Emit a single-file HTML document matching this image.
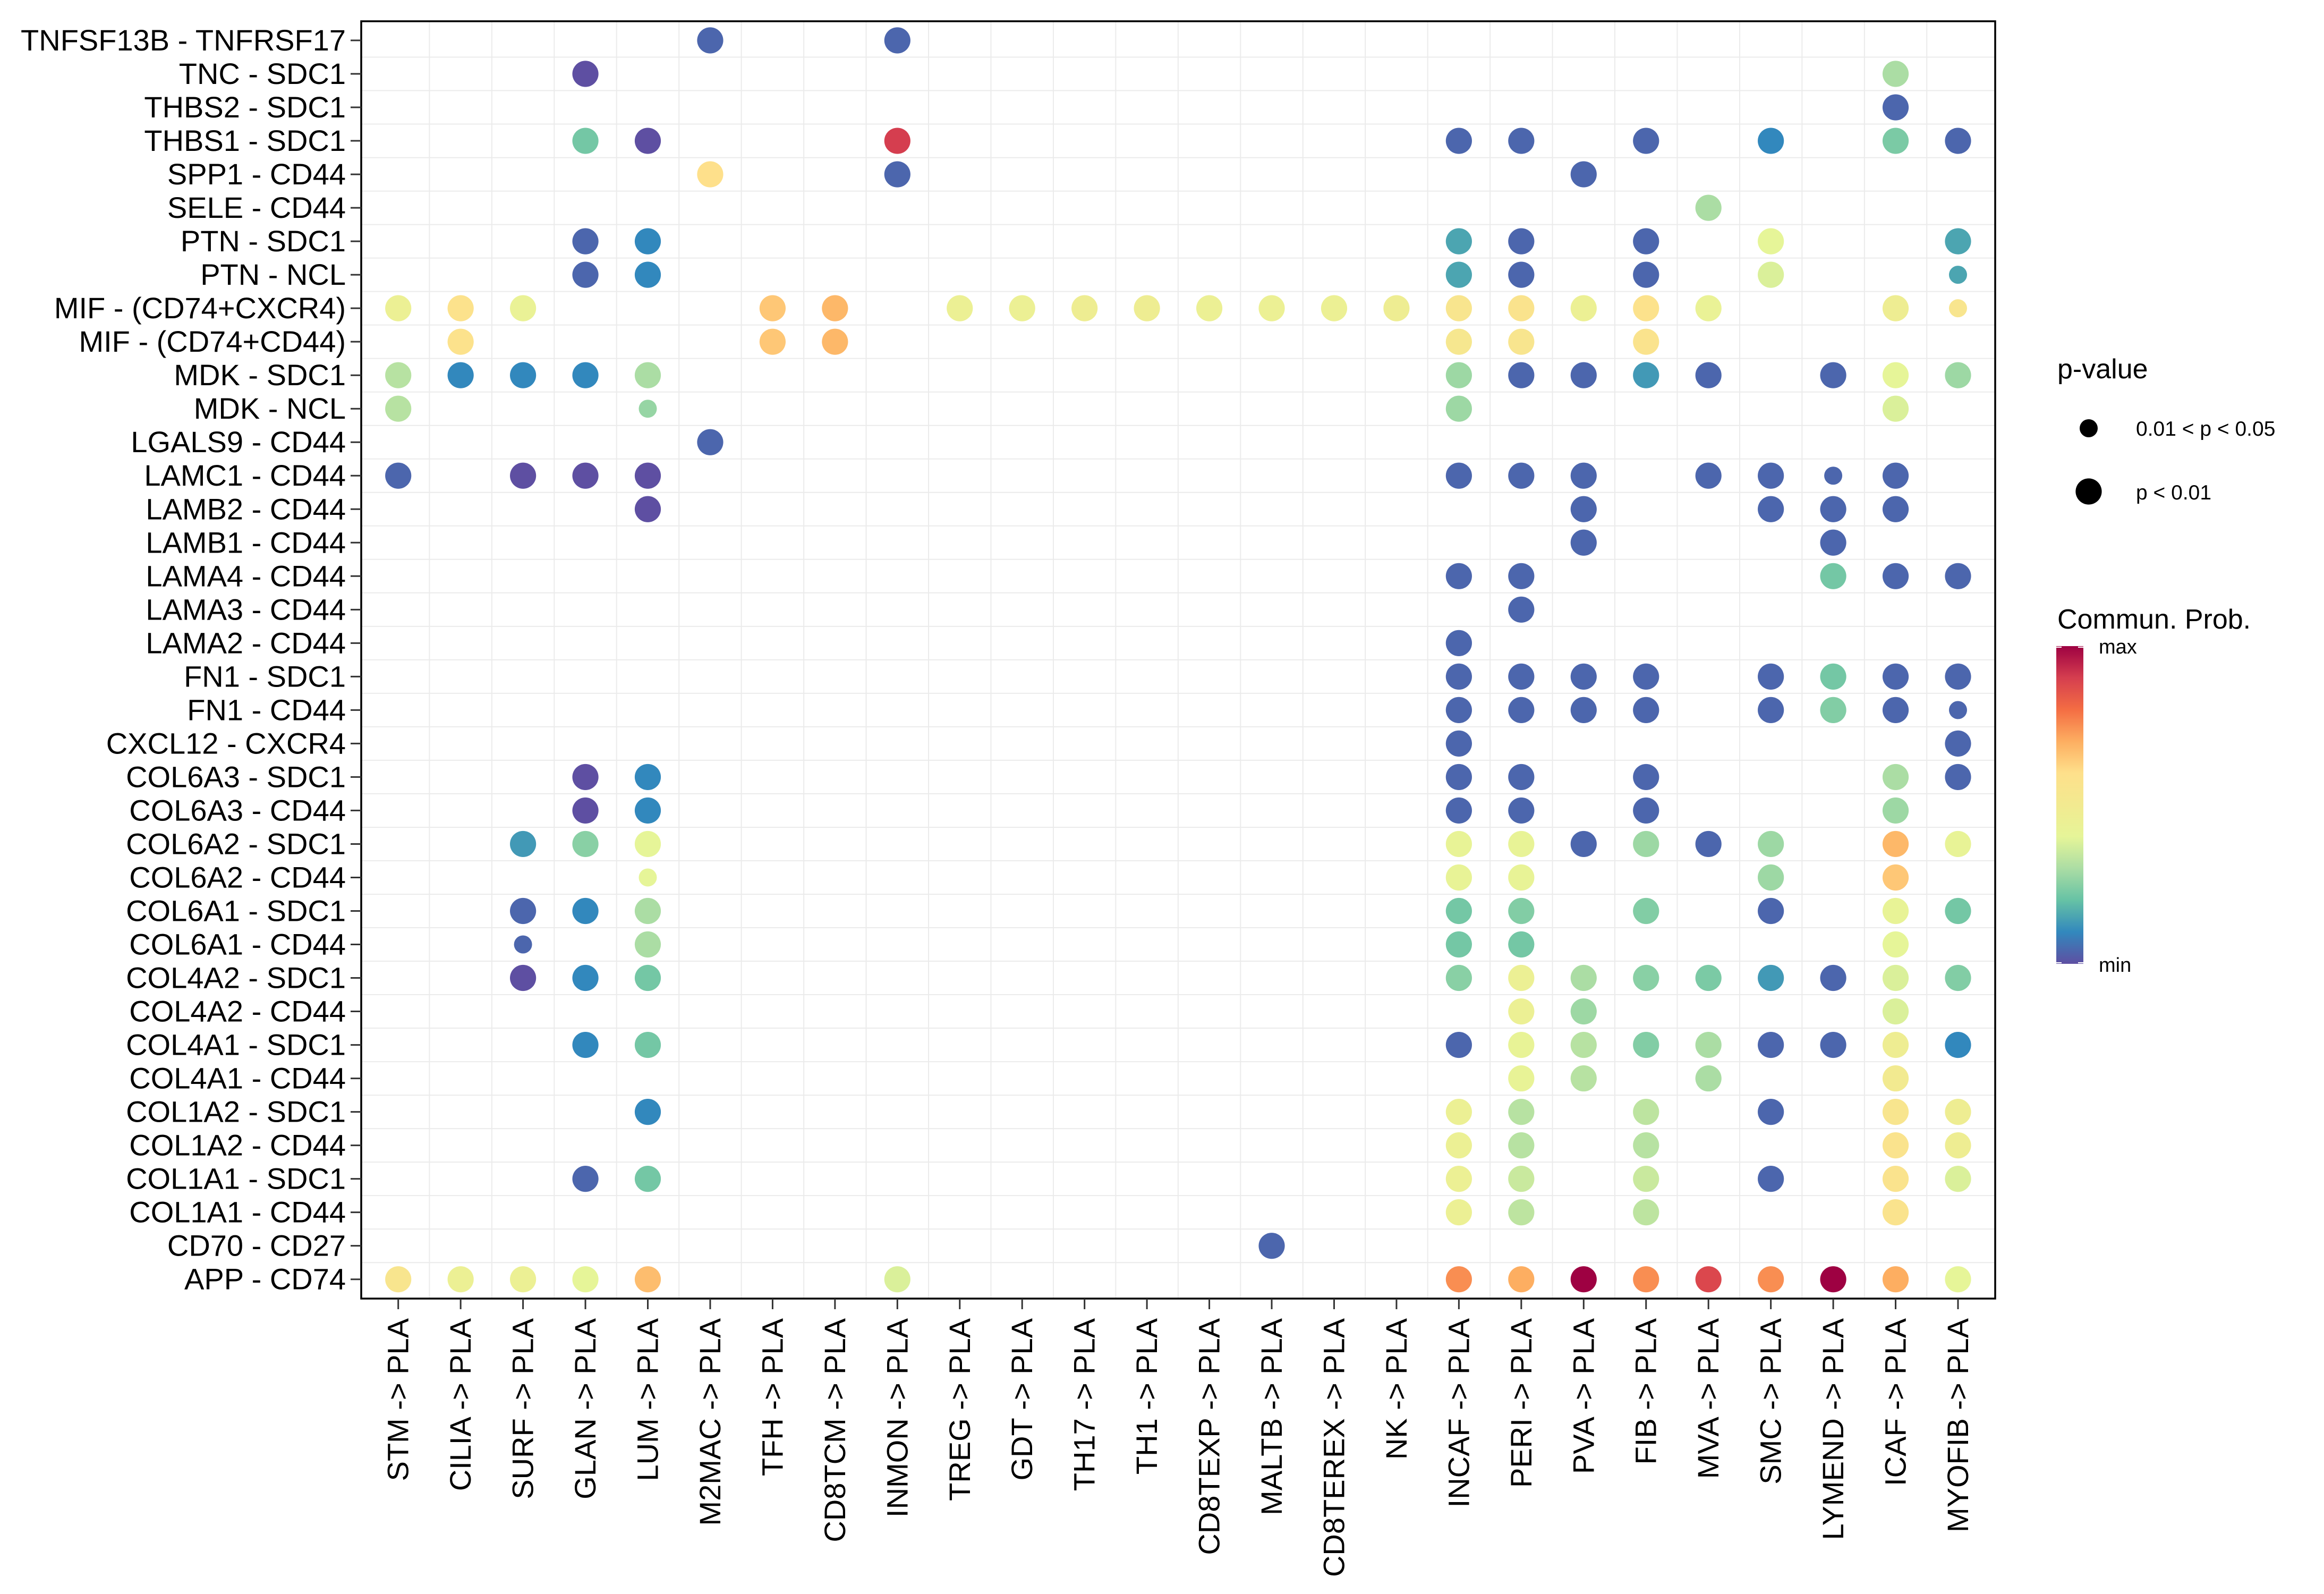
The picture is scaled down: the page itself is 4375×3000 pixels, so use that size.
<!DOCTYPE html>
<html><head><meta charset="utf-8"><style>
html,body{margin:0;padding:0;background:#fff;}
svg{display:block;font-family:"Liberation Sans",Arial,sans-serif;}
</style></head><body>
<svg id="chart" width="4375" height="3000" viewBox="0 0 4375 3000" xmlns="http://www.w3.org/2000/svg">
<defs>
<linearGradient id="spec" x1="0" y1="1" x2="0" y2="0">
<stop offset="0" stop-color="#5E4FA2"/><stop offset="0.1" stop-color="#3288BD"/><stop offset="0.2" stop-color="#66C2A5"/><stop offset="0.3" stop-color="#ABDDA4"/><stop offset="0.4" stop-color="#E6F598"/><stop offset="0.5" stop-color="#F2EA90"/><stop offset="0.6" stop-color="#FEE08B"/><stop offset="0.7" stop-color="#FDAE61"/><stop offset="0.8" stop-color="#F46D43"/><stop offset="0.9" stop-color="#D53E4F"/><stop offset="1" stop-color="#9E0142"/>
</linearGradient>
</defs>
<g id="grid"></g>
<g id="dots"></g>
<rect x="680" y="40" width="3076" height="2404" fill="none" stroke="#000" stroke-width="3.5"/>
<g id="ylab"></g>
<g id="xlab"></g>
<g>
<text x="3873" y="712" font-size="52">p-value</text>
<circle cx="3932" cy="806" r="17" fill="#000"/>
<text x="4021" y="820" font-size="39">0.01 &lt; p &lt; 0.05</text>
<circle cx="3932" cy="925" r="24.6" fill="#000"/>
<text x="4021" y="940" font-size="39">p &lt; 0.01</text>
</g>
<g>
<text x="3873" y="1183" font-size="52">Commun. Prob.</text>
<rect x="3871" y="1216" width="51" height="598" fill="url(#spec)"/>
<line x1="3871" y1="1218" x2="3881" y2="1218" stroke="#fff" stroke-width="2"/><line x1="3912" y1="1218" x2="3922" y2="1218" stroke="#fff" stroke-width="2"/>
<line x1="3871" y1="1812" x2="3881" y2="1812" stroke="#fff" stroke-width="2"/><line x1="3912" y1="1812" x2="3922" y2="1812" stroke="#fff" stroke-width="2"/>
<text x="3951" y="1230" font-size="38">max</text>
<text x="3951" y="1829" font-size="38">min</text>
</g>
</svg>
<script>
const rowLabels = ["TNFSF13B - TNFRSF17","TNC - SDC1","THBS2 - SDC1","THBS1 - SDC1","SPP1 - CD44","SELE - CD44","PTN - SDC1","PTN - NCL","MIF - (CD74+CXCR4)","MIF - (CD74+CD44)","MDK - SDC1","MDK - NCL","LGALS9 - CD44","LAMC1 - CD44","LAMB2 - CD44","LAMB1 - CD44","LAMA4 - CD44","LAMA3 - CD44","LAMA2 - CD44","FN1 - SDC1","FN1 - CD44","CXCL12 - CXCR4","COL6A3 - SDC1","COL6A3 - CD44","COL6A2 - SDC1","COL6A2 - CD44","COL6A1 - SDC1","COL6A1 - CD44","COL4A2 - SDC1","COL4A2 - CD44","COL4A1 - SDC1","COL4A1 - CD44","COL1A2 - SDC1","COL1A2 - CD44","COL1A1 - SDC1","COL1A1 - CD44","CD70 - CD27","APP - CD74"];
const colLabels = ["STM","CILIA","SURF","GLAN","LUM","M2MAC","TFH","CD8TCM","INMON","TREG","GDT","TH17","TH1","CD8TEXP","MALTB","CD8TEREX","NK","INCAF","PERI","PVA","FIB","MVA","SMC","LYMEND","ICAF","MYOFIB"];
// [row, col, prob (0-1), small (p between 0.01 and 0.05)]
const B=0.04,P=0;
const dots = [
[0,5,B,0],[0,8,B,0],
[1,3,P,0],[1,24,.3,0],
[2,24,B,0],
[3,3,.22,0],[3,4,P,0],[3,8,.9,0],[3,17,B,0],[3,18,B,0],[3,20,B,0],[3,22,.1,0],[3,24,.23,0],[3,25,B,0],
[4,5,.6,0],[4,8,B,0],[4,19,B,0],
[5,21,.3,0],
[6,3,B,0],[6,4,.1,0],[6,17,.15,0],[6,18,B,0],[6,20,B,0],[6,22,.4,0],[6,25,.15,0],
[7,3,B,0],[7,4,.1,0],[7,17,.15,0],[7,18,B,0],[7,20,B,0],[7,22,.38,0],[7,25,.15,1],
[8,0,.45,0],[8,1,.58,0],[8,2,.43,0],[8,6,.65,0],[8,7,.68,0],[8,9,.45,0],[8,10,.45,0],[8,11,.47,0],[8,12,.47,0],[8,13,.45,0],[8,14,.45,0],[8,15,.45,0],[8,16,.47,0],[8,17,.55,0],[8,18,.57,0],[8,19,.45,0],[8,20,.58,0],[8,21,.43,0],[8,24,.47,0],[8,25,.55,1],
[9,1,.58,0],[9,6,.65,0],[9,7,.68,0],[9,17,.53,0],[9,18,.55,0],[9,20,.57,0],
[10,0,.32,0],[10,1,.1,0],[10,2,.1,0],[10,3,.1,0],[10,4,.3,0],[10,17,.28,0],[10,18,B,0],[10,19,B,0],[10,20,.13,0],[10,21,B,0],[10,23,B,0],[10,24,.4,0],[10,25,.28,0],
[11,0,.32,0],[11,4,.27,1],[11,17,.28,0],[11,24,.38,0],
[12,5,B,0],
[13,0,B,0],[13,2,P,0],[13,3,P,0],[13,4,P,0],[13,17,B,0],[13,18,B,0],[13,19,B,0],[13,21,B,0],[13,22,B,0],[13,23,B,1],[13,24,B,0],
[14,4,P,0],[14,19,B,0],[14,22,B,0],[14,23,B,0],[14,24,B,0],
[15,19,B,0],[15,23,B,0],
[16,17,B,0],[16,18,B,0],[16,23,.22,0],[16,24,B,0],[16,25,B,0],
[17,18,B,0],
[18,17,B,0],
[19,17,B,0],[19,18,B,0],[19,19,B,0],[19,20,B,0],[19,22,B,0],[19,23,.22,0],[19,24,B,0],[19,25,B,0],
[20,17,B,0],[20,18,B,0],[20,19,B,0],[20,20,B,0],[20,22,B,0],[20,23,.24,0],[20,24,B,0],[20,25,B,1],
[21,17,B,0],[21,25,B,0],
[22,3,P,0],[22,4,.1,0],[22,17,B,0],[22,18,B,0],[22,20,B,0],[22,24,.3,0],[22,25,B,0],
[23,3,P,0],[23,4,.1,0],[23,17,B,0],[23,18,B,0],[23,20,B,0],[23,24,.28,0],
[24,2,.13,0],[24,3,.25,0],[24,4,.4,0],[24,17,.42,0],[24,18,.42,0],[24,19,B,0],[24,20,.28,0],[24,21,B,0],[24,22,.28,0],[24,24,.68,0],[24,25,.42,0],
[25,4,.4,1],[25,17,.42,0],[25,18,.42,0],[25,22,.28,0],[25,24,.65,0],
[26,2,B,0],[26,3,.1,0],[26,4,.3,0],[26,17,.22,0],[26,18,.24,0],[26,20,.24,0],[26,22,B,0],[26,24,.42,0],[26,25,.22,0],
[27,2,B,1],[27,4,.3,0],[27,17,.22,0],[27,18,.22,0],[27,24,.4,0],
[28,2,P,0],[28,3,.1,0],[28,4,.22,0],[28,17,.25,0],[28,18,.45,0],[28,19,.3,0],[28,20,.25,0],[28,21,.23,0],[28,22,.13,0],[28,23,B,0],[28,24,.38,0],[28,25,.24,0],
[29,18,.45,0],[29,19,.28,0],[29,24,.38,0],
[30,3,.1,0],[30,4,.22,0],[30,17,B,0],[30,18,.42,0],[30,19,.32,0],[30,20,.24,0],[30,21,.3,0],[30,22,B,0],[30,23,B,0],[30,24,.47,0],[30,25,.1,0],
[31,18,.42,0],[31,19,.32,0],[31,21,.3,0],[31,24,.5,0],
[32,4,.1,0],[32,17,.45,0],[32,18,.32,0],[32,20,.33,0],[32,22,B,0],[32,24,.55,0],[32,25,.47,0],
[33,17,.45,0],[33,18,.32,0],[33,20,.32,0],[33,24,.57,0],[33,25,.47,0],
[34,3,B,0],[34,4,.22,0],[34,17,.45,0],[34,18,.35,0],[34,20,.35,0],[34,22,B,0],[34,24,.57,0],[34,25,.38,0],
[35,17,.45,0],[35,18,.33,0],[35,20,.33,0],[35,24,.57,0],
[36,14,B,0],
[37,0,.55,0],[37,1,.45,0],[37,2,.45,0],[37,3,.4,0],[37,4,.67,0],[37,8,.38,0],[37,17,.75,0],[37,18,.7,0],[37,19,1,0],[37,20,.75,0],[37,21,.88,0],[37,22,.75,0],[37,23,1,0],[37,24,.7,0],[37,25,.4,0]
];
const NS="http://www.w3.org/2000/svg";
const PL=680,PR=3756,PT=40,PB=2444;
const x0=749.7, dx=(3686-749.7)/25, y0=76, dy=(2407.7-76)/37;
function xs(c){return x0+c*dx;}
function ys(r){return y0+r*dy;}
const stops=["#5E4FA2","#3288BD","#66C2A5","#ABDDA4","#E6F598","#F2EA90","#FEE08B","#FDAE61","#F46D43","#D53E4F","#9E0142"].map(h=>[parseInt(h.substr(1,2),16),parseInt(h.substr(3,2),16),parseInt(h.substr(5,2),16)]);
function color(v){v=Math.max(0,Math.min(1,v))*10;const i=Math.min(9,Math.floor(v)),t=v-i;const a=stops[i],b=stops[i+1];return "rgb("+a.map((q,k)=>Math.round(q+(b[k]-q)*t)).join(",")+")";}
function mk(tag,attrs,parent){const e=document.createElementNS(NS,tag);for(const k in attrs)e.setAttribute(k,attrs[k]);parent.appendChild(e);return e;}
const grid=document.getElementById('grid');
for(let r=0;r<rowLabels.length-1;r++){const y=ys(r+0.5);const e=mk('line',{x1:PL,x2:PR,y1:y,y2:y,stroke:'#ebebeb','stroke-width':2},grid);

}
for(let c=0;c<colLabels.length-1;c++){const x=xs(c+0.5);const e=mk('line',{y1:PT,y2:PB,x1:x,x2:x,stroke:'#ebebeb','stroke-width':2},grid);

}
const yl=document.getElementById('ylab');
rowLabels.forEach((l,r)=>{const t=mk('text',{x:651,y:ys(r)+19,'text-anchor':'end','font-size':56},yl);t.textContent=l;


const k=mk('line',{x1:660,x2:PL,y1:ys(r),y2:ys(r),stroke:'#333','stroke-width':3},yl);

});
const xl=document.getElementById('xlab');
colLabels.forEach((l,c)=>{const x=xs(c);const t=mk('text',{x:0,y:0,'text-anchor':'end','font-size':56,transform:'translate('+(x+19)+',2481) rotate(-90)'},xl);t.textContent=l+" -> PLA";


const k=mk('line',{x1:x,x2:x,y1:PB,y2:2464,stroke:'#333','stroke-width':3},xl);

});
const dg=document.getElementById('dots');
dots.forEach(d=>{const e=mk('circle',{cx:xs(d[1]),cy:ys(d[0]),r:d[3]?17:24.6,fill:color(d[2])},dg);

});
</script>
</body></html>
